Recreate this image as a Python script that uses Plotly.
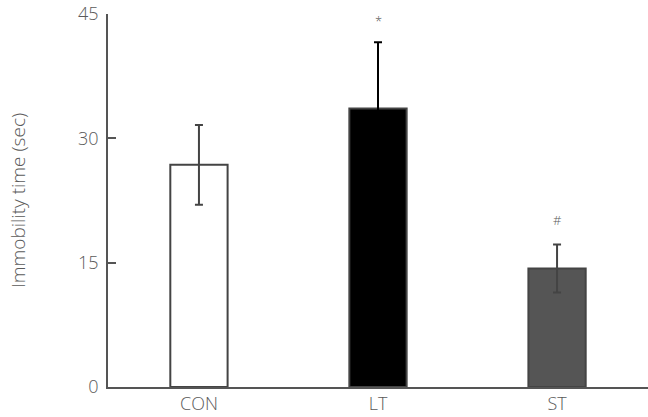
import plotly.graph_objects as go

categories = ["CON", "LT", "ST"]
means = [26.8, 33.6, 14.3]
errors = [4.8, 8.0, 2.9]
fills = ["#ffffff", "#000000", "#555555"]
err_colors = ["#444444", "#000000", "#444444"]
marks = ["", "*", "#"]
mark_y = [None, 44.1, 20.2]

FONT = "Open Sans"
GRAY = "#5a5a5a"

fig = go.Figure()
for c, m, e, f, ec in zip(categories, means, errors, fills, err_colors):
    fig.add_trace(go.Bar(
        x=[c], y=[m],
        width=0.32,
        marker=dict(color=f, line=dict(color="#444444", width=2)),
        error_y=dict(type="data", array=[e], visible=True,
                     color=ec, thickness=2, width=4),
        showlegend=False,
    ))

for c, m, yy in zip(categories, marks, mark_y):
    if m:
        fig.add_annotation(x=c, y=yy, text=m, showarrow=False,
                           font=dict(family=FONT, size=13, color=GRAY),
                           xanchor="center", yanchor="middle")

fig.update_layout(
    width=648, height=417,
    margin=dict(l=108, r=0, t=14, b=30),
    plot_bgcolor="white", paper_bgcolor="white",
    font=dict(family=FONT, color=GRAY, weight=300),
    barmode="overlay",
)
fig.update_xaxes(
    categoryorder="array", categoryarray=categories,
    range=[-0.508, 2.508],
    showline=True, linecolor="#555555", linewidth=1.5,
    ticks="", showgrid=False, zeroline=False,
    tickfont=dict(family=FONT, size=18, color=GRAY, weight=300),
)
fig.update_yaxes(
    range=[0, 45], tickvals=[0, 15, 30, 45],
    showline=True, linecolor="#555555", linewidth=1.5,
    ticks="inside", ticklen=8, tickwidth=1.5, tickcolor="#555555",
    showgrid=False, zeroline=False,
    tickfont=dict(family=FONT, size=18, color=GRAY, weight=300),
    ticklabelstandoff=4,
    title=dict(text="Immobility time (sec)", standoff=47,
               font=dict(family=FONT, size=19, color=GRAY, weight=300)),
)

fig.write_html("out.html")
